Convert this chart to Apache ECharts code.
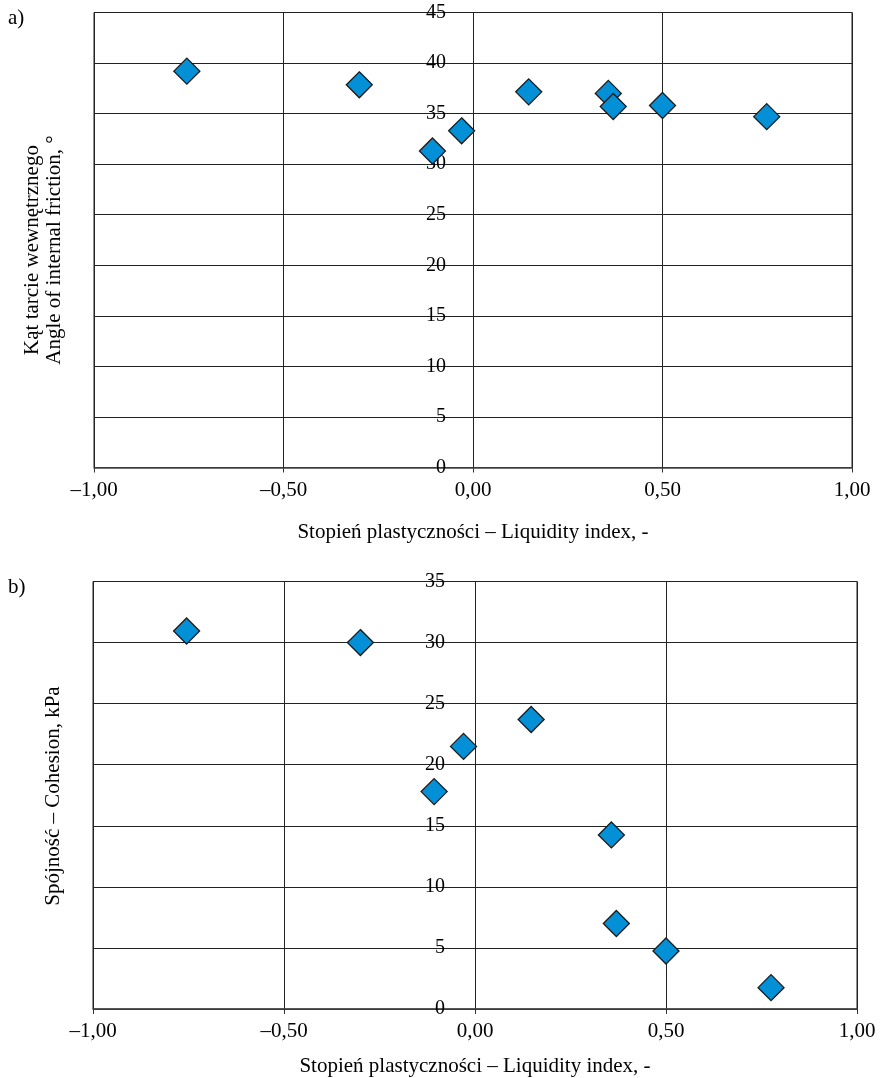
<!DOCTYPE html>
<html>
<head>
<meta charset="utf-8">
<script src="https://cdn.jsdelivr.net/npm/echarts@6/dist/echarts.min.js"></script>
<style>
html,body{margin:0;padding:0;background:#fff;}
#chart{width:880px;height:1078px;}
</style>
</head>
<body>
<div id="chart"></div>
<script>
// Data
var liquidityIndex = [-0.755, -0.30, -0.107, -0.03, 0.147, 0.357, 0.37, 0.50, 0.775];
var frictionAngle = [39.2, 37.85, 31.3, 33.3, 37.15, 37.0, 35.7, 35.8, 34.7];
var cohesion = [30.95, 30.0, 17.8, 21.5, 23.7, 14.25, 7.0, 4.75, 1.75];
var xTickLabels = ['–1,00', '–0,50', '0,00', '0,50', '1,00'];
var yTickLabelsA = ['0', '5', '10', '15', '20', '25', '30', '35', '40', '45'];
var yTickLabelsB = ['0', '5', '10', '15', '20', '25', '30', '35'];
var xTitle = 'Stopień plastyczności – Liquidity index, -';
var yTitleA = 'Kąt tarcie wewnętrznego\nAngle of internal friction, °';
var yTitleB = 'Spójność – Cohesion, kPa';

var FONT = '"Liberation Serif", "Times New Roman", serif';
var lineCol = '#222';

function xAxisCfg(gi, nameGap) {
  return {
    type: 'value', gridIndex: gi, min: -1, max: 1, interval: 0.5,
    axisLine: {show: true, onZero: false, lineStyle: {color: '#444', width: 1.5}},
    axisTick: {show: true, length: 5, lineStyle: {color: '#333'}},
    splitLine: {show: true, lineStyle: {color: lineCol, width: 1}},
    axisLabel: {
      margin: 12, color: '#000', fontFamily: FONT, fontSize: 21,
      formatter: function (v) { return xTickLabels[Math.round((v + 1) / 0.5)]; }
    },
    name: xTitle, nameLocation: 'middle', nameGap: nameGap,
    nameTextStyle: {color: '#000', fontFamily: FONT, fontSize: 21}
  };
}
function yAxisCfg(gi, max, labels, margin, offset) {
  return {
    type: 'value', gridIndex: gi, min: 0, max: max, interval: 5,
    offset: offset,
    axisLine: {show: true, onZero: false, lineStyle: {color: lineCol, width: 1}},
    axisTick: {show: false},
    splitLine: {show: true, lineStyle: {color: lineCol, width: 1}},
    axisLabel: {
      margin: margin, color: '#000', fontFamily: FONT, fontSize: 20,
      formatter: function (v) { return labels[Math.round(v / 5)]; }
    }
  };
}

function pairs(xs, ys) { return xs.map(function (x, i) { return [x, ys[i]]; }); }

var chart = echarts.init(document.getElementById('chart'), null, {renderer: 'canvas'});
chart.setOption({
  animation: false,
  backgroundColor: '#fff',
  grid: [
    {left: 94, top: 12.5, width: 758, height: 455, show: true, borderColor: lineCol, borderWidth: 1},
    {left: 93, top: 581.5, width: 764, height: 427.5, show: true, borderColor: lineCol, borderWidth: 1}
  ],
  xAxis: [xAxisCfg(0, 54), xAxisCfg(1, 47)],
  yAxis: [yAxisCfg(0, 45, yTickLabelsA, 27, -379), yAxisCfg(1, 35, yTickLabelsB, 30, -382)],
  series: [
    {
      type: 'scatter', xAxisIndex: 0, yAxisIndex: 0, symbol: 'diamond', symbolSize: 26,
      itemStyle: {color: '#0490d6', borderColor: '#1a1a1a', borderWidth: 1.3, opacity: 1},
      data: pairs(liquidityIndex, frictionAngle)
    },
    {
      type: 'scatter', xAxisIndex: 1, yAxisIndex: 1, symbol: 'diamond', symbolSize: 26,
      itemStyle: {color: '#0490d6', borderColor: '#1a1a1a', borderWidth: 1.3, opacity: 1},
      data: pairs(liquidityIndex, cohesion)
    }
  ],
  graphic: [
    {type: 'text', left: 8, top: 8, style: {text: 'a)', font: '21px ' + FONT, fill: '#000'}},
    {type: 'text', left: 8, top: 577, style: {text: 'b)', font: '21px ' + FONT, fill: '#000'}},
    {type: 'text', x: 43, y: 250, rotation: Math.PI / 2,
      style: {text: yTitleA, font: '21px ' + FONT, fill: '#000', align: 'center', verticalAlign: 'middle', lineHeight: 22}},
    {type: 'text', x: 53, y: 796, rotation: Math.PI / 2,
      style: {text: yTitleB, font: '21px ' + FONT, fill: '#000', align: 'center', verticalAlign: 'middle'}}
  ]
});
</script>
</body>
</html>
